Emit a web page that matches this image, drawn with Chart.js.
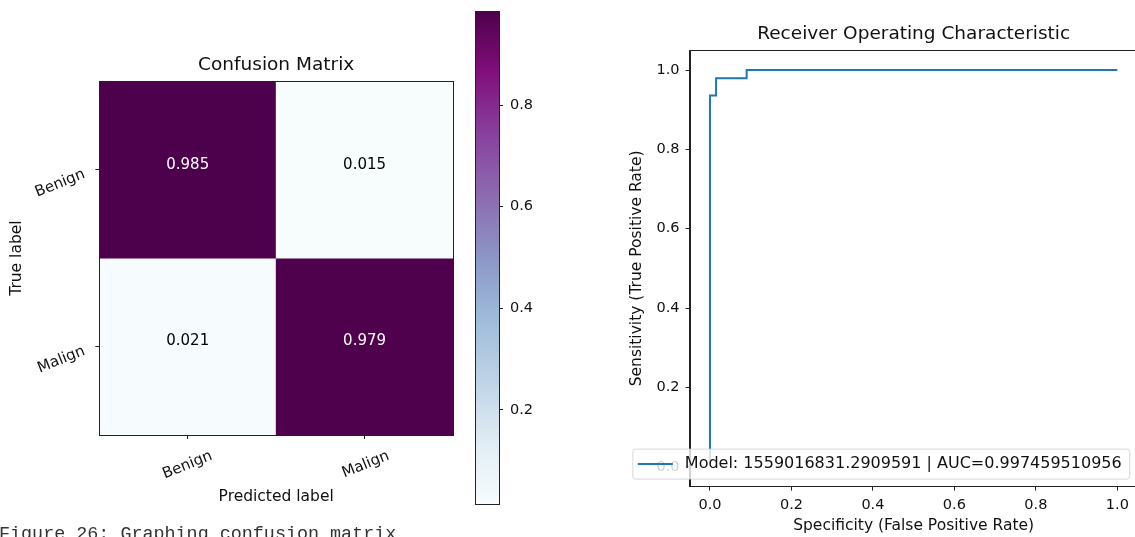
<!DOCTYPE html>
<html>
<head>
<meta charset="utf-8">
<script src="https://cdn.jsdelivr.net/npm/chart.js@4.4.1/dist/chart.umd.min.js"></script>
<style>
  html, body { margin: 0; padding: 0; background: #fff; }
  body { width: 1135px; height: 537px; position: relative; overflow: hidden; }
  canvas { position: absolute; top: 0; }
  #cm { left: 0; }
  #cb { left: 460px; }
  #roc { left: 560px; }
  #caption {
    position: absolute; left: -1px; top: 526px;
    font: 18.4px "Liberation Mono", monospace; line-height: 1;
    color: #333; white-space: pre;
  }
</style>
</head>
<body>
<canvas id="cm" width="470" height="537"></canvas>
<canvas id="cb" width="100" height="537"></canvas>
<canvas id="roc" width="580" height="537"></canvas>
<div id="caption">Figure 26: Graphing confusion matrix</div>
<script>
// confusion matrix (normalized), rows = true label, cols = predicted label
const classNames = ["Benign", "Malign"];
const matrixBenign = [0.985, 0.015];
const matrixMalign = [0.021, 0.979];
const matrix = [matrixBenign, matrixMalign];
const colorbarTicks = [0.2, 0.4, 0.6, 0.8];

// ROC curve
const rocFpr = [0, 0, 0.015, 0.015, 0.09, 0.09, 1.0];
const rocTpr = [0, 0.936, 0.936, 0.979, 0.979, 1.0, 1.0];
const rocTicks = [0, 0.2, 0.4, 0.6, 0.8, 1.0];
const rocLabel = "Model: 1559016831.2909591 | AUC=0.997459510956";

Chart.defaults.font.family = '"DejaVu Sans", sans-serif';
Chart.defaults.font.size = 14.5;
Chart.defaults.color = "#111";

const BUPU = ["#f7fcfd", "#e0ecf4", "#bfd3e6", "#9ebcda", "#8c96c6", "#8c6bb1", "#88419d", "#810f7c", "#4d004b"];
const vmin = Math.min(...matrix.flat());
const vmax = Math.max(...matrix.flat());

function hexToRgb(h) {
  const n = parseInt(h.slice(1), 16);
  return [(n >> 16) & 255, (n >> 8) & 255, n & 255];
}

function bupu(t) {
  t = Math.max(0, Math.min(1, t));
  const pos = t * (BUPU.length - 1);
  const i = Math.min(Math.floor(pos), BUPU.length - 2);
  const f = pos - i;
  const a = hexToRgb(BUPU[i]);
  const b = hexToRgb(BUPU[i + 1]);
  const c = a.map((v, k) => Math.round(v + (b[k] - v) * f));
  return `rgb(${c[0]},${c[1]},${c[2]})`;
}

const norm = (v) => (v - vmin) / (vmax - vmin);

// fixed axis sizes, no extra room for end labels
const fixWidth = (w) => (s) => { s.width = w; s.paddingTop = 0; s.paddingBottom = 0; };
const fixHeight = (h) => (s) => { s.height = h; s.paddingLeft = 0; s.paddingRight = 0; };

// matplotlib-like box round the axes
const frame = {
  id: "frame",
  afterDatasetsDraw(chart) {
    const { ctx, chartArea: a } = chart;
    ctx.save();
    ctx.strokeStyle = "#222";
    ctx.lineWidth = 1;
    ctx.strokeRect(Math.round(a.left) + 0.5, Math.round(a.top) + 0.5,
      Math.round(a.right - a.left), Math.round(a.bottom - a.top));
    ctx.restore();
  }
};

const cellText = {
  id: "cellText",
  afterDatasetsDraw(chart) {
    const ctx = chart.ctx;
    const thresh = vmax / 2;
    ctx.save();
    ctx.font = '15px "DejaVu Sans"';
    ctx.textAlign = "center";
    ctx.textBaseline = "middle";
    chart.data.datasets.forEach((ds, i) => {
      chart.getDatasetMeta(i).data.forEach((bar, j) => {
        const v = matrix[i][j];
        const p = bar.getProps(["x", "y", "base"], true);
        ctx.fillStyle = v > thresh ? "#fff" : "#000";
        ctx.fillText(v.toFixed(3), p.x, (p.y + p.base) / 2 - 5);
      });
    });
    ctx.restore();
  }
};

const tickGrid = { drawOnChartArea: false, drawTicks: true, tickLength: 4, color: "#222", offset: false };

new Chart(document.getElementById("cm"), {
  type: "bar",
  data: {
    labels: classNames,
    datasets: matrix.map((row, i) => ({
      label: classNames[i],
      data: row.map(() => 1),
      backgroundColor: row.map((v) => bupu(norm(v))),
      borderWidth: 0,
      barPercentage: 1,
      categoryPercentage: 1
    }))
  },
  options: {
    responsive: false,
    animation: false,
    layout: { padding: { left: 0, right: 17, top: 0, bottom: 0 } },
    plugins: {
      legend: { display: false },
      tooltip: { enabled: false },
      title: {
        display: true, text: "Confusion Matrix", fullSize: false,
        font: { size: 18.5, weight: "normal" }, color: "#111",
        padding: { top: 54, bottom: 5 }
      }
    },
    scales: {
      x: {
        stacked: true,
        grid: tickGrid,
        border: { display: true, color: "#222" },
        ticks: { minRotation: 22, maxRotation: 22, labelOffset: 24, padding: 8, autoSkip: false, font: { size: 15 } },
        title: { display: true, text: "Predicted label", font: { size: 15.5 }, padding: { top: 0, bottom: 31 } },
        afterFit: fixHeight(102)
      },
      y: {
        stacked: true, reverse: true, min: 0, max: 2,
        grid: tickGrid,
        border: { display: true, color: "#222" },
        afterBuildTicks: (s) => { s.ticks = classNames.map((c, i) => ({ value: i + 0.5 })); },
        ticks: { minRotation: 22, maxRotation: 22, labelOffset: 4, padding: 11, font: { size: 15 }, callback: (v, i) => classNames[i] },
        title: { display: true, text: "True label", font: { size: 15.5 }, padding: { top: 8, bottom: 0 } },
        afterFit: fixWidth(99.3)
      }
    }
  },
  plugins: [cellText, frame]
});

// colour bar
new Chart(document.getElementById("cb"), {
  type: "bar",
  data: {
    labels: [""],
    datasets: [{
      data: [[vmin, vmax]],
      borderWidth: 0,
      barPercentage: 1,
      categoryPercentage: 1,
      backgroundColor: (c) => {
        const a = c.chart.chartArea;
        if (!a) return BUPU[0];
        const g = c.chart.ctx.createLinearGradient(0, a.bottom, 0, a.top);
        BUPU.forEach((col, k) => g.addColorStop(k / (BUPU.length - 1), col));
        return g;
      }
    }]
  },
  options: {
    responsive: false,
    animation: false,
    layout: { padding: { left: 15, right: 0, top: 11, bottom: 33 } },
    plugins: { legend: { display: false }, tooltip: { enabled: false } },
    scales: {
      x: { display: false },
      y: {
        position: "right", min: vmin, max: vmax,
        grid: tickGrid,
        border: { display: true, color: "#222" },
        afterBuildTicks: (s) => { s.ticks = colorbarTicks.map((v) => ({ value: v })); },
        ticks: { padding: 7, callback: (v) => v.toFixed(1) },
        afterFit: fixWidth(61)
      }
    }
  },
  plugins: [frame]
});

const rocLegend = {
  id: "rocLegend",
  afterDraw(chart) {
    const { ctx, chartArea } = chart;
    const ds = chart.data.datasets[0];
    ctx.save();
    ctx.font = '16px "DejaVu Sans"';
    const tw = ctx.measureText(ds.label).width;
    const h = 30;
    const right = chartArea.right - 8;
    const bottom = chartArea.bottom - 7.5;
    const w = tw + 60;
    const left = right - w;
    const top = bottom - h;
    ctx.beginPath();
    if (ctx.roundRect) ctx.roundRect(left, top, w, h, 3); else ctx.rect(left, top, w, h);
    ctx.fillStyle = "rgba(255,255,255,0.8)";
    ctx.fill();
    ctx.strokeStyle = "rgba(204,204,204,0.8)";
    ctx.lineWidth = 1;
    ctx.stroke();
    const my = top + h / 2;
    ctx.strokeStyle = ds.borderColor;
    ctx.lineWidth = ds.borderWidth;
    ctx.beginPath();
    ctx.moveTo(left + 5, my);
    ctx.lineTo(left + 40, my);
    ctx.stroke();
    ctx.fillStyle = "#111";
    ctx.textBaseline = "middle";
    ctx.fillText(ds.label, left + 52, my);
    ctx.restore();
  }
};

const rocAxis = (title, pad, fit) => ({
  type: "linear", min: -0.05, max: 1.05,
  grid: tickGrid,
  border: { display: true, color: "#222" },
  afterBuildTicks: (s) => { s.ticks = rocTicks.map((v) => ({ value: v })); },
  ticks: { padding: 6, callback: (v) => v.toFixed(1) },
  title: { display: true, text: title, font: { size: 15.5 }, padding: pad },
  afterFit: fit
});

new Chart(document.getElementById("roc"), {
  type: "scatter",
  data: {
    datasets: [{
      label: rocLabel,
      data: rocFpr.map((x, i) => ({ x, y: rocTpr[i] })),
      showLine: true,
      borderColor: "#1f77b4",
      borderWidth: 2,
      pointRadius: 0,
      fill: false
    }]
  },
  options: {
    responsive: false,
    animation: false,
    layout: { padding: { left: 0, right: 2.3, top: 0, bottom: 0 } },
    plugins: {
      legend: { display: false },
      tooltip: { enabled: false },
      title: {
        display: true, text: "Receiver Operating Characteristic", fullSize: false,
        font: { size: 18.5, weight: "normal" }, color: "#111",
        padding: { top: 23, bottom: 5 }
      }
    },
    scales: {
      x: rocAxis("Specificity (False Positive Rate)", { top: 0, bottom: 2 }, fixHeight(50.4)),
      y: rocAxis("Sensitivity (True Positive Rate)", { top: 67.7, bottom: 0 }, fixWidth(129.6))
    }
  },
  plugins: [frame, rocLegend]
});
</script>
</body>
</html>
